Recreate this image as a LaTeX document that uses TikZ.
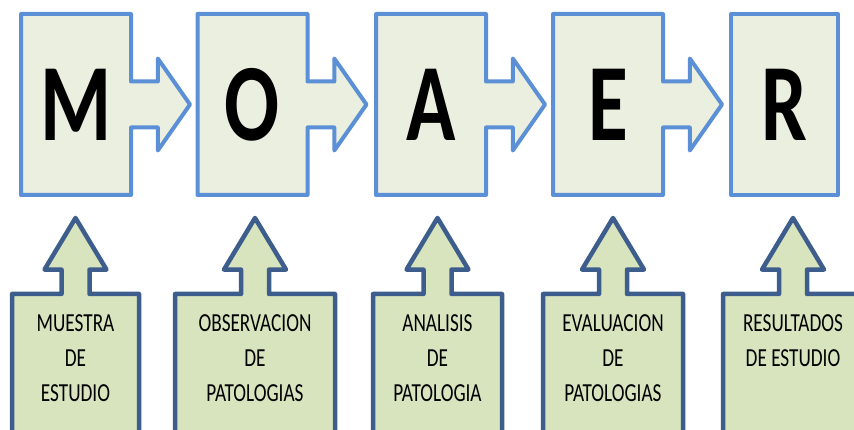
\documentclass[tikz,border=0pt]{standalone}
\usepackage{fontspec}
\setmainfont{Carlito}[FakeStretch=0.74]
\usetikzlibrary{shapes.arrows}

\definecolor{stepfill}{RGB}{235,239,223}
\definecolor{stepline}{RGB}{91,143,214}
\definecolor{notefill}{RGB}{215,228,189}
\definecolor{noteline}{RGB}{61,94,140}

\begin{document}
\begin{tikzpicture}[x=1pt,y=-1pt]
\tikzstyle{every node}=[arrow box, inner sep=0pt, outer sep=0pt, line join=round,
  arrow box north arrow=-1pt, arrow box south arrow=-1pt,
  arrow box east arrow=-1pt, arrow box west arrow=-1pt]
\tikzstyle{letter}=[draw=stepline, fill=stepfill, line width=4pt,
  minimum width=110pt, minimum height=181pt,
  arrow box east arrow=59pt, arrow box shaft width=46pt,
  arrow box head extend=23pt, arrow box tip angle=110,
  font=\fontsize{110}{110}\selectfont\bfseries]
\tikzstyle{last letter}=[letter, arrow box east arrow=-1pt]
\tikzstyle{note}=[draw=noteline, fill=notefill, line width=4.5pt,
  minimum height=140pt, align=center, text depth=12pt,
  arrow box north arrow=76pt, arrow box shaft width=28pt,
  arrow box head extend=17pt, arrow box tip angle=62,
  font=\fontsize{26}{35}\selectfont]
\useasboundingbox (0,0) rectangle (854,430);
\clip (0,0) rectangle (854,430);

% top row, one letter per step
\node[letter] (m) at (76,104.5) {M};
\node[letter] (o) at (252.5,104.5) {O};
\node[letter] (a) at (431,104.5) {A};
\node[letter] (e) at (608,104.5) {E};
\node[last letter, minimum width=107pt] (r) at (784.5,104.5) {R};

% bottom row, what each letter stands for
\node[note, minimum width=127pt] (muestra) at (75.5,364) {MUESTRA\\DE\\ESTUDIO};
\node[note, minimum width=160pt] (observacion) at (255,364) {OBSERVACION\\DE\\PATOLOGIAS};
\node[note, minimum width=129pt] (analisis) at (437.5,364) {ANALISIS\\DE\\PATOLOGIA};
\node[note, minimum width=140pt] (evaluacion) at (613,364) {EVALUACION\\DE\\PATOLOGIAS};
\node[note, minimum width=140pt] (resultados) at (793,364) {RESULTADOS\\DE ESTUDIO\\\mbox{}};
\end{tikzpicture}
\end{document}
